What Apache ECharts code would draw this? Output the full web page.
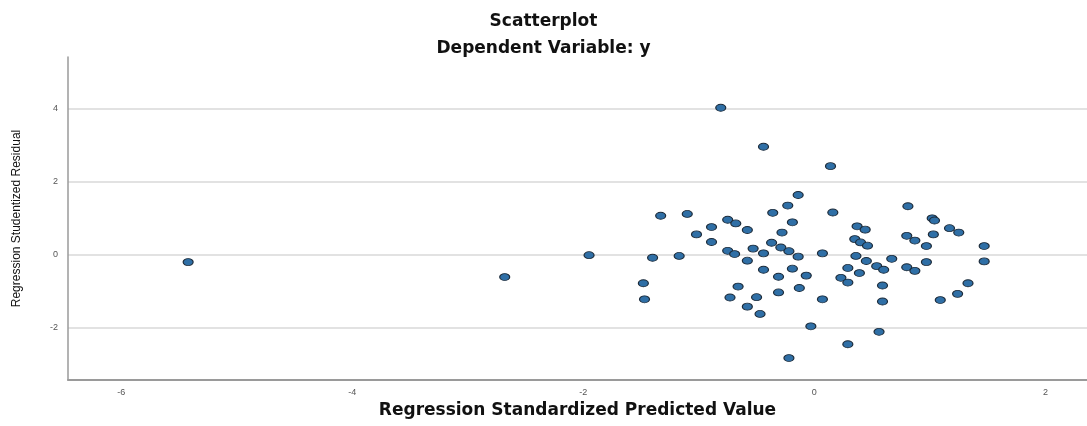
<!DOCTYPE html>
<html>
<head>
<meta charset="utf-8">
<script src="https://cdn.jsdelivr.net/npm/echarts@6/dist/echarts.min.js"></script>
<style>html,body{margin:0;padding:0;background:#fff}#c{width:1087px;height:426px}</style>
</head>
<body>
<div id="c"></div>
<script>
// Regression Standardized Predicted Value (x) and Studentized Residual (y)
var predicted = [
  -5.42,-2.68,-1.95,-1.40,-1.33,-1.10,-1.17,-1.02,-0.89,-0.89,
  -1.48,-1.47,-0.81,-0.44,0.14,-0.14,-0.23,-0.36,-0.19,-0.28,
  -0.37,-0.75,-0.68,-0.58,-0.75,-0.69,-0.58,-0.53,-0.44,-0.29,
  -0.22,-0.14,0.07,-0.44,-0.19,-0.31,-0.07,-0.66,-0.13,-0.31,
  -0.73,-0.50,0.07,-0.58,-0.47,-0.03,-0.22,0.16,0.29,0.23,
  0.29,0.29,0.81,1.02,1.04,1.17,1.25,1.03,0.80,0.87,
  0.97,1.47,1.47,0.97,0.80,0.87,0.37,0.44,0.35,0.40,
  0.46,0.36,0.45,0.67,0.54,0.60,0.39,0.59,0.59,1.09,
  1.24,1.33,0.56
];
var residual = [
  -0.21,-0.62,-0.02,-0.09,1.06,1.11,-0.04,0.55,0.75,0.34,
  -0.79,-1.23,4.02,2.95,2.42,1.63,1.34,1.14,0.88,0.60,
  0.32,0.95,0.85,0.67,0.10,0.01,-0.17,0.16,0.03,0.19,
  0.09,-0.06,0.03,-0.42,-0.39,-0.61,-0.58,-0.88,-0.92,-1.04,
  -1.18,-1.17,-1.23,-1.43,-1.63,-1.97,-2.84,1.15,-0.37,-0.64,
  -0.77,-2.46,1.32,0.99,0.93,0.72,0.60,0.55,0.51,0.38,
  0.23,0.23,-0.19,-0.21,-0.35,-0.45,0.77,0.68,0.42,0.33,
  0.24,-0.04,-0.18,-0.12,-0.32,-0.42,-0.51,-0.85,-1.29,-1.25,
  -1.08,-0.79,-2.12
];
var titleText = 'Scatterplot';
var subtitleText = 'Dependent Variable: y';
var xName = 'Regression Standardized Predicted Value';
var yName = 'Regression Studentized Residual';

var points = predicted.map(function (v, i) { return [v, residual[i]]; });

var chart = echarts.init(document.getElementById('c'));
chart.setOption({
  backgroundColor: '#ffffff',
  animation: false,
  title: [
    { text: titleText, left: 'center', top: 8,
      textStyle: { fontFamily: 'DejaVu Sans', fontWeight: 'bold', fontSize: 17, color: '#111' } },
    { text: subtitleText, left: 'center', top: 35,
      textStyle: { fontFamily: 'DejaVu Sans', fontWeight: 'bold', fontSize: 17, color: '#111' } }
  ],
  grid: { left: 68, right: 0, top: 57, bottom: 46 },
  xAxis: {
    type: 'value', min: -6.46, max: 2.36, splitNumber: 5,
    name: xName, nameLocation: 'middle', nameGap: 20,
    nameTextStyle: { fontFamily: 'DejaVu Sans', fontWeight: 'bold', fontSize: 17, color: '#111' },
    axisLine: { show: true, onZero: false, lineStyle: { color: '#9a9a9a', width: 2 } },
    axisTick: { show: false },
    axisLabel: { showMinLabel: false, showMaxLabel: false, margin: 8,
      fontFamily: 'Liberation Sans', fontSize: 9, color: '#555' },
    splitLine: { show: false }
  },
  yAxis: {
    type: 'value', min: -3.44, max: 5.41, splitNumber: 5,
    name: yName, nameLocation: 'middle', nameGap: 45, nameRotate: 90,
    nameTextStyle: { fontFamily: 'Liberation Sans Narrow, Liberation Sans', fontSize: 12, color: '#111' },
    axisLine: { show: true, onZero: false, lineStyle: { color: '#9a9a9a', width: 1.5 } },
    axisTick: { show: false },
    axisLabel: { showMinLabel: false, showMaxLabel: false, margin: 10,
      fontFamily: 'Liberation Sans', fontSize: 9, color: '#555' },
    splitLine: { show: true, showMinLine: false, showMaxLine: false,
      lineStyle: { color: '#e2e2e2', width: 2 } }
  },
  series: [{
    type: 'scatter',
    data: points,
    symbol: 'circle',
    symbolSize: [10, 7],
    itemStyle: { color: '#2f6fa6', borderColor: '#1c2b3a', borderWidth: 1, opacity: 1 }
  }]
});
</script>
</body>
</html>
